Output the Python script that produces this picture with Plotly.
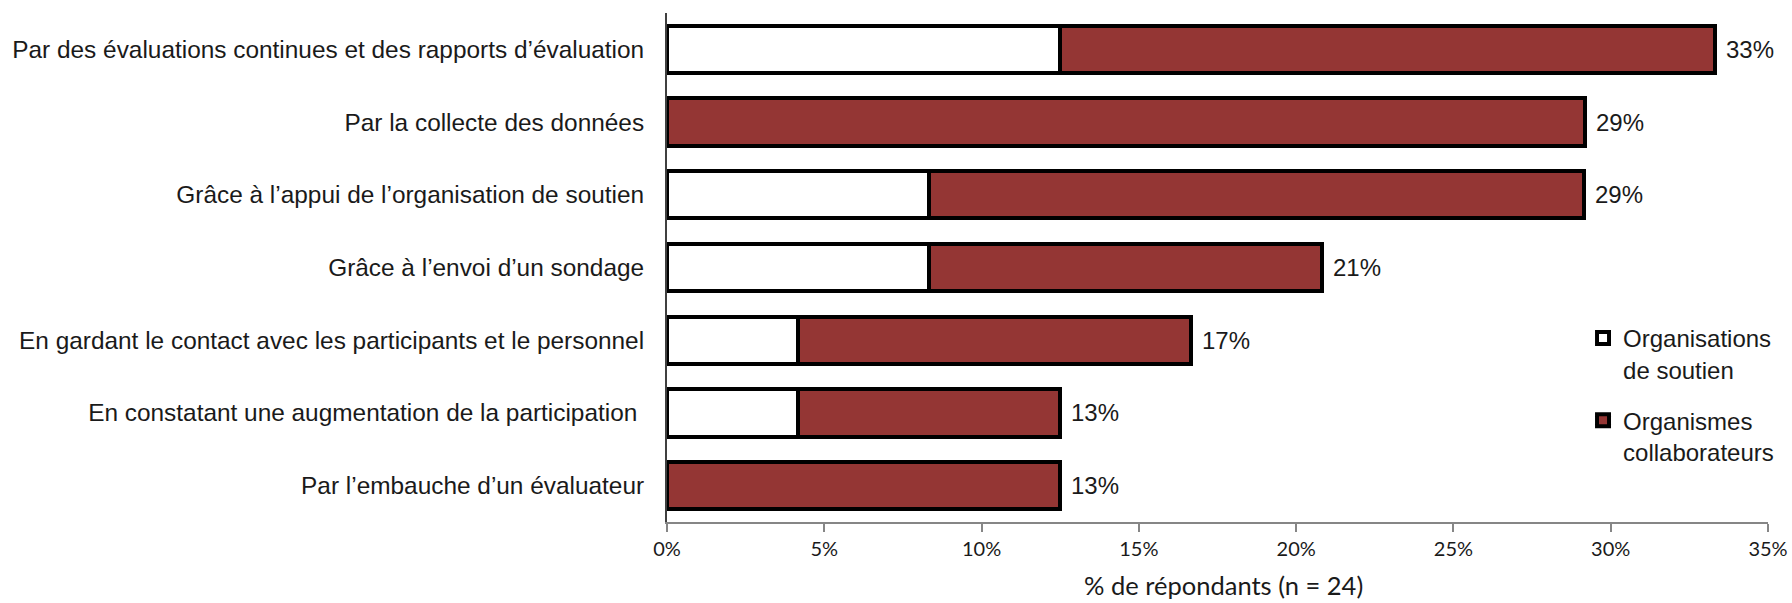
import math
import plotly.graph_objects as go

categories = [
    "Par des évaluations continues et des rapports d’évaluation",
    "Par la collecte des données",
    "Grâce à l’appui de l’organisation de soutien",
    "Grâce à l’envoi d’un sondage",
    "En gardant le contact avec les participants et le personnel",
    "En constatant une augmentation de la participation ",
    "Par l’embauche d’un évaluateur",
]
soutien = [12.5, 0, 8.33, 8.33, 4.17, 4.17, 0]
collab = [20.83, 29.17, 20.83, 12.5, 12.5, 8.33, 12.5]
series_names = ["Organisations<br>de soutien", "Organismes<br>collaborateurs"]
x_ticks = [0, 5, 10, 15, 20, 25, 30, 35]
x_ticklabels = ["0%", "5%", "10%", "15%", "20%", "25%", "30%", "35%"]
x_title = "% de répondants (n = 24)"

totals = [a + b for a, b in zip(soutien, collab)]
total_labels = [f"{math.floor(t + 0.5)}%" for t in totals]

RED = "#943634"
FAM = "Liberation Sans, Arial, sans-serif"
LABEL_FONT = dict(family=FAM, size=24.4, color="#1a1a1a")

fig = go.Figure()
fig.add_trace(go.Bar(
    y=categories, x=soutien, orientation="h", name=series_names[0],
    legendgroup="g1",
    marker=dict(color="white", line=dict(color="black", width=4)),
))
fig.add_trace(go.Bar(
    y=categories, x=collab, orientation="h", name=series_names[1],
    legendgroup="g2",
    marker=dict(color=RED, line=dict(color="black", width=4)),
))

for cat, tot, lab in zip(categories, totals, total_labels):
    fig.add_annotation(
        x=tot, y=cat, xref="x", yref="y", text=lab, showarrow=False,
        xanchor="left", yanchor="middle", xshift=9,
        font=dict(family=FAM, size=24, color="#1a1a1a"),
    )

# x-axis title placed below the tick labels
fig.add_annotation(
    x=0.5, y=0, xref="paper", yref="paper", text=x_title, showarrow=False,
    xanchor="center", yanchor="middle", yshift=-63, xshift=6,
    font=dict(family="Lato, Liberation Sans, sans-serif", size=25.5, color="#1a1a1a"),
)

fig.update_layout(
    width=1792, height=603,
    barmode="stack", bargap=0.35,
    margin=dict(l=667, r=24, t=13, b=81),
    plot_bgcolor="white", paper_bgcolor="white",
    font=LABEL_FONT,
    showlegend=True,
    legend=dict(
        x=0.832, y=0.405, xanchor="left", yanchor="top",
        traceorder="grouped", tracegroupgap=17, valign="top",
        font=dict(family=FAM, size=24, color="#1a1a1a"),
        bgcolor="rgba(0,0,0,0)", itemwidth=30,
    ),
    xaxis=dict(
        range=[0, 35], tickmode="array", tickvals=x_ticks, ticktext=x_ticklabels,
        showgrid=False, zeroline=False,
        showline=True, linecolor="#868686", linewidth=1.5,
        ticks="outside", ticklen=8, tickcolor="#868686", tickwidth=1.5,
        tickfont=dict(family="Lato, Liberation Sans, sans-serif", size=20, color="#1a1a1a"),
        automargin=False,
    ),
    yaxis=dict(
        categoryorder="array", categoryarray=categories, autorange="reversed",
        showgrid=False, zeroline=False,
        showline=True, linecolor="#404040", linewidth=2,
        ticks="", ticklabelstandoff=16,
        tickfont=LABEL_FONT, automargin=False,
    ),
)

fig.write_html("out.html")
